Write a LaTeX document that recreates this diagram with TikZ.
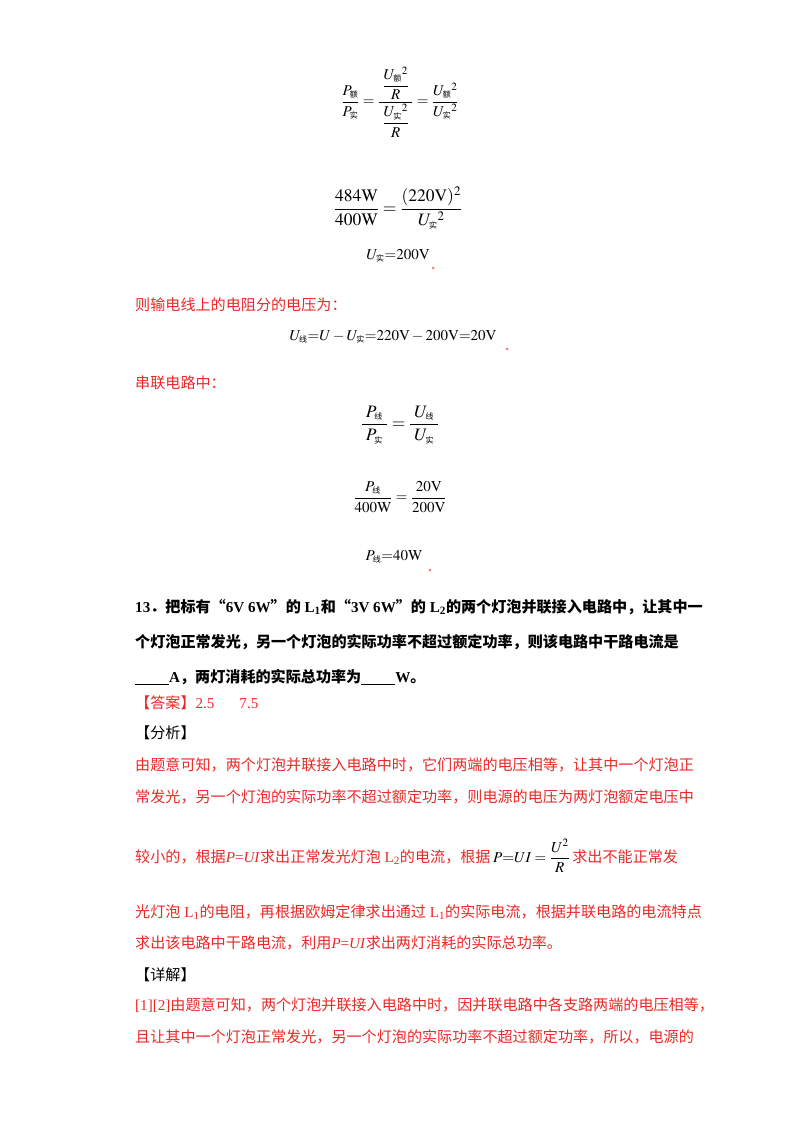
\documentclass[tikz,border=0pt]{standalone}
\usepackage{amsmath}
\usepackage{mathptmx}
\usepackage{fontspec}
\setmainfont{Liberation Serif}
\newfontfamily\cjk{Noto Sans CJK SC}
\newcommand{\zh}[1]{{\cjk #1}}
\newcommand{\sz}[1]{\text{\cjk\footnotesize #1}}
\definecolor{ansred}{RGB}{235,40,40}
\tikzset{ln/.style={anchor=west,inner sep=0pt,font=\fontsize{15.1}{18}\selectfont},
 red/.style={ln,text=ansred},
 eq/.style={inner sep=0pt,font=\fontsize{15}{18}\selectfont},
 eqb/.style={inner sep=0pt,font=\fontsize{17.5}{21}\selectfont},
 dot/.style={circle,fill=ansred!60,inner sep=0pt,minimum size=3pt}}
\begin{document}
\begin{tikzpicture}[x=1pt,y=-1pt]
\useasboundingbox (0,0) rectangle (800,1132);
\node[eq] (e1) at (400,102) {$\dfrac{P_{\sz{额}}}{P_{\sz{实}}}=\dfrac{\;\dfrac{U_{\sz{额}}{}^2}{R}\;}{\;\dfrac{U_{\sz{实}}{}^2}{R}\;}=\dfrac{U_{\sz{额}}{}^2}{U_{\sz{实}}{}^2}$};
\node[eqb] (e2) at (398,208) {$\dfrac{484\mathrm{W}}{400\mathrm{W}}=\dfrac{(220\mathrm{V})^2}{U_{\sz{实}}{}^2}$};
\node[eq] (e3) at (398,256) {$U_{\sz{实}}{=}200\mathrm{V}$};
\node[dot] (d1) at (433,268) {};
\node[red] (t1) at (135,305) {\zh{则输电线上的电阻分的电压为：}};
\node[eq] (e4) at (393,337) {$U_{\sz{线}}{=}U-U_{\sz{实}}{=}220\mathrm{V}-200\mathrm{V}{=}20\mathrm{V}$};
\node[dot] (d2) at (507,349) {};
\node[red] (t2) at (135,383) {\zh{串联电路中：}};
\node[eqb] (e5) at (400,425) {$\dfrac{\;P_{\sz{线}}\;}{\;P_{\sz{实}}\;}=\dfrac{\;U_{\sz{线}}\;}{\;U_{\sz{实}}\;}$};
\node[eq] (e6) at (400,497) {$\dfrac{P_{\sz{线}}}{400\mathrm{W}}=\dfrac{20\mathrm{V}}{200\mathrm{V}}$};
\node[eq] (e7) at (394,557) {$P_{\sz{线}}{=}40\mathrm{W}$};
\node[dot] (d3) at (430,570) {};
\node[ln,font=\fontsize{15.1}{18}\selectfont\bfseries] (q1) at (135,607) {13\zh{．把标有“}6V 6W\zh{”的} L\textsubscript{1}\zh{和“}3V 6W\zh{”的} L\textsubscript{2}\zh{的两个灯泡并联接入电路中，让其中一}};
\node[ln,font=\fontsize{15.1}{18}\selectfont\bfseries] (q2) at (135,642) {\zh{个灯泡正常发光，另一个灯泡的实际功率不超过额定功率，则该电路中干路电流是}};
\node[ln,font=\fontsize{15.1}{18}\selectfont\bfseries] (q3) at (135,677) {\underline{\hspace{34pt}}A\zh{，两灯消耗的实际总功率为}\underline{\hspace{34pt}}W\zh{。}};
\node[red] (a1) at (135,703) {\zh{【答案】}2.5\hspace{25pt}7.5};
\node[ln] (a2) at (135,733) {\zh{【分析】}};
\node[red] (r1) at (135,765) {\zh{由题意可知，两个灯泡并联接入电路中时，它们两端的电压相等，让其中一个灯泡正}};
\node[red] (r2) at (135,797) {\zh{常发光，另一个灯泡的实际功率不超过额定功率，则电源的电压为两灯泡额定电压中}};
\node[red] (r3) at (135,856) {\zh{较小的，根据}\textit{P}=\textit{UI}\zh{求出正常发光灯泡} L\textsubscript{2}\zh{的电流，根据}\,\textcolor{black}{$P{=}UI=\dfrac{U^2}{R}$}\,\zh{求出不能正常发}};
\node[red] (r4) at (135,912) {\zh{光灯泡} L\textsubscript{1}\zh{的电阻，再根据欧姆定律求出通过} L\textsubscript{1}\zh{的实际电流，根据并联电路的电流特点}};
\node[red] (r5) at (135,943) {\zh{求出该电路中干路电流，利用}\textit{P}=\textit{UI}\zh{求出两灯消耗的实际总功率。}};
\node[ln] (a3) at (135,975) {\zh{【详解】}};
\node[red] (r6) at (135,1005) {[1][2]\zh{由题意可知，两个灯泡并联接入电路中时，因并联电路中各支路两端的电压相等，}};
\node[red] (r7) at (135,1037) {\zh{且让其中一个灯泡正常发光，另一个灯泡的实际功率不超过额定功率，所以，电源的}};
\end{tikzpicture}
\end{document}
